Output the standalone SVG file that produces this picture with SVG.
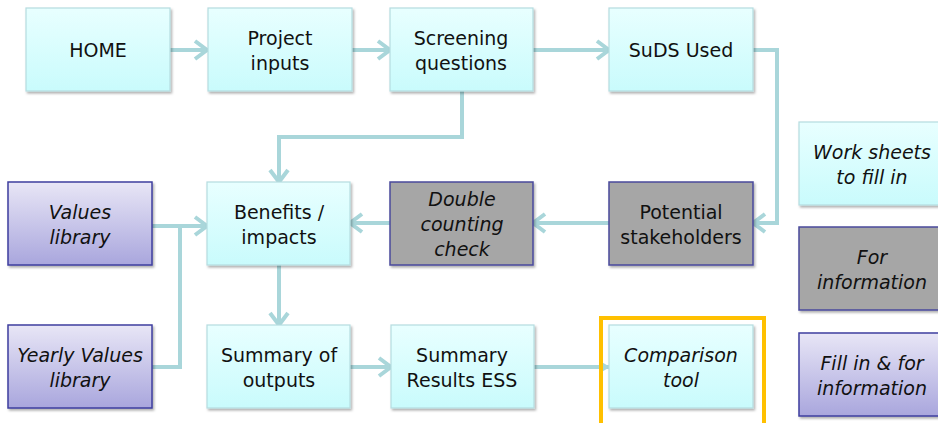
<svg xmlns="http://www.w3.org/2000/svg" width="938" height="423" viewBox="0 0 938 423">
<defs>
<linearGradient id="gc" x1="0" y1="0" x2="0" y2="1"><stop offset="0" stop-color="#E8FFFF"/><stop offset="1" stop-color="#C9FBFC"/></linearGradient>
<linearGradient id="gl" x1="0" y1="0" x2="0" y2="1"><stop offset="0" stop-color="#E8E6F6"/><stop offset="1" stop-color="#A9A6DD"/></linearGradient>
<filter id="sh" x="-10%" y="-10%" width="130%" height="130%"><feDropShadow dx="1.5" dy="2" stdDeviation="1.2" flood-color="#000" flood-opacity="0.3"/></filter>
<marker id="ah" markerUnits="userSpaceOnUse" viewBox="0 0 16 22" refX="14" refY="11" markerWidth="16" markerHeight="22" orient="auto"><path d="M2,2 L14,11 L2,20" fill="none" stroke="#A9D6DA" stroke-width="4"/></marker>
<marker id="ahs" markerUnits="userSpaceOnUse" viewBox="0 0 10 12" refX="9" refY="6" markerWidth="10" markerHeight="12" orient="auto"><path d="M0,0 L10,6 L0,12 Z" fill="#A9D6DA"/></marker>
</defs>
<style>
.c{fill:url(#gc);stroke:#B5DCDF;stroke-width:1.2;filter:url(#sh)}
.g{fill:#A6A6A6;stroke:#4A4A9C;stroke-width:1.5;filter:url(#sh)}
.l{fill:url(#gl);stroke:#3E3E9E;stroke-width:1.5;filter:url(#sh)}
text{font-family:"DejaVu Sans",Verdana,sans-serif;font-size:19px;fill:#111;text-anchor:middle}
.i{font-style:italic}
.e{fill:none;stroke:#A9D6DA;stroke-width:4}
</style>
<g id="connectors">
<path class="e" d="M170,50 H207" marker-end="url(#ah)"/>
<path class="e" d="M352,50 H390" marker-end="url(#ah)"/>
<path class="e" d="M533,50 H609" marker-end="url(#ah)"/>
<path class="e" d="M753,50 H777 V223 H753" marker-end="url(#ah)"/>
<path class="e" d="M462,91 V137 H279 V182" marker-end="url(#ah)"/>
<path class="e" d="M609,223 H533" marker-end="url(#ah)"/>
<path class="e" d="M390,223 H350" marker-end="url(#ah)"/>
<path class="e" d="M152,226 H207" marker-end="url(#ah)"/>
<path class="e" d="M152,367 H180 V226"/>
<path class="e" d="M279,265 V325" marker-end="url(#ah)"/>
<path class="e" d="M350,367 H391" marker-end="url(#ah)"/>
<path class="e" d="M534,367 H609" marker-end="url(#ahs)"/>
</g>
<g id="home"><rect class="c" x="26" y="8" width="144" height="83"/><text x="98" y="57">HOME</text></g>
<g id="project-inputs"><rect class="c" x="208" y="8" width="144" height="83"/><text x="280" y="45">Project</text><text x="280" y="70">inputs</text></g>
<g id="screening-questions"><rect class="c" x="390" y="8" width="143" height="83"/><text x="461" y="45">Screening</text><text x="461" y="70">questions</text></g>
<g id="suds-used"><rect class="c" x="609" y="8" width="144" height="83"/><text x="681" y="57">SuDS Used</text></g>
<g id="values-library"><rect class="l" x="8" y="182" width="144" height="83"/><text class="i" x="80" y="219">Values</text><text class="i" x="80" y="244">library</text></g>
<g id="benefits-impacts"><rect class="c" x="207" y="182" width="143" height="83"/><text x="279" y="219">Benefits /</text><text x="279" y="244">impacts</text></g>
<g id="double-counting-check"><rect class="g" x="390" y="182" width="143" height="83"/><text class="i" x="462" y="206">Double</text><text class="i" x="462" y="231">counting</text><text class="i" x="462" y="256">check</text></g>
<g id="potential-stakeholders"><rect class="g" x="609" y="182" width="144" height="83"/><text x="681" y="219">Potential</text><text x="681" y="244">stakeholders</text></g>
<g id="yearly-values-library"><rect class="l" x="8" y="325" width="144" height="83"/><text class="i" x="80" y="362">Yearly Values</text><text class="i" x="80" y="387">library</text></g>
<g id="summary-of-outputs"><rect class="c" x="207" y="325" width="143" height="83"/><text x="279" y="362">Summary of</text><text x="279" y="387">outputs</text></g>
<g id="summary-results-ess"><rect class="c" x="391" y="325" width="143" height="83"/><text x="462" y="362">Summary</text><text x="462" y="387">Results ESS</text></g>
<g id="comparison-tool"><rect class="c" x="609" y="325" width="144" height="83"/><text class="i" x="681" y="362">Comparison</text><text class="i" x="681" y="387">tool</text><rect x="601" y="318" width="163" height="110" fill="none" stroke="#FFC000" stroke-width="4"/></g>
<g id="legend-work-sheets"><rect class="c" x="799" y="122" width="146" height="83"/><text class="i" x="872" y="159">Work sheets</text><text class="i" x="872" y="184">to fill in</text></g>
<g id="legend-for-information"><rect class="g" x="799" y="227" width="146" height="83"/><text class="i" x="872" y="264">For</text><text class="i" x="872" y="289">information</text></g>
<g id="legend-fill-in"><rect class="l" x="799" y="333" width="146" height="83"/><text class="i" x="872" y="370">Fill in &amp; for</text><text class="i" x="872" y="395">information</text></g>
</svg>
